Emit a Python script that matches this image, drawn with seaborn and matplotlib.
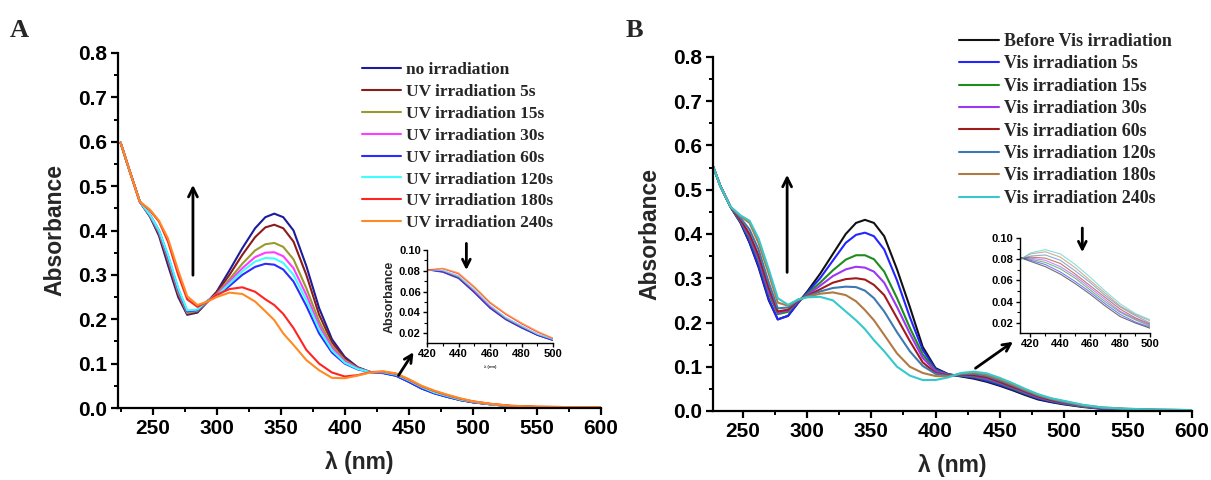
import numpy as np
import pandas as pd
import matplotlib
matplotlib.use("Agg")
import matplotlib.pyplot as plt
from matplotlib.lines import Line2D
from matplotlib.ticker import MultipleLocator, FormatStrFormatter
import seaborn as sns

# ---------------- data ----------------
wavelength = [225, 232, 240, 248, 255, 262, 270, 277, 285, 293,
              300, 310, 320, 330, 338, 345, 352, 360, 370, 380, 390, 400, 410, 420,
              430, 440, 450, 460, 470, 480, 490, 500, 515, 530, 550, 575, 600]

labels_a = ["no irradiation", "UV irradiation 5s", "UV irradiation 15s", "UV irradiation 30s",
            "UV irradiation 60s", "UV irradiation 120s", "UV irradiation 180s", "UV irradiation 240s"]
colors_a = ["#1c1c9c", "#8b1c1c", "#9a9a2c", "#ff3cff", "#2c2cff", "#3cffff", "#ff2424", "#ff8a24"]

a_no = [0.598, 0.535, 0.465, 0.431, 0.388, 0.322, 0.250, 0.210, 0.215, 0.240,
        0.262, 0.310, 0.360, 0.405, 0.430, 0.438, 0.430, 0.400, 0.320, 0.225, 0.155, 0.115, 0.092, 0.081,
        0.079, 0.073, 0.059, 0.044, 0.033, 0.025, 0.018, 0.013, 0.008, 0.004, 0.002, 0.001, 0.001]
a_5s = [0.598, 0.535, 0.465, 0.432, 0.392, 0.330, 0.255, 0.212, 0.217, 0.240,
        0.260, 0.300, 0.345, 0.385, 0.407, 0.413, 0.405, 0.375, 0.300, 0.210, 0.148, 0.112, 0.091, 0.081,
        0.0795, 0.0735, 0.060, 0.045, 0.034, 0.026, 0.018, 0.013, 0.008, 0.004, 0.002, 0.001, 0.001]
a_15s = [0.598, 0.535, 0.465, 0.433, 0.395, 0.335, 0.260, 0.214, 0.219, 0.241,
         0.257, 0.290, 0.325, 0.355, 0.369, 0.372, 0.363, 0.335, 0.270, 0.195, 0.140, 0.108, 0.090, 0.081,
         0.080, 0.074, 0.061, 0.046, 0.034, 0.026, 0.019, 0.013, 0.008, 0.004, 0.002, 0.001, 0.001]
a_30s = [0.598, 0.535, 0.465, 0.434, 0.398, 0.340, 0.265, 0.217, 0.221, 0.242,
         0.255, 0.285, 0.315, 0.340, 0.350, 0.351, 0.342, 0.315, 0.255, 0.185, 0.135, 0.105, 0.089, 0.081,
         0.080, 0.075, 0.061, 0.046, 0.035, 0.027, 0.019, 0.014, 0.008, 0.004, 0.002, 0.001, 0.001]
a_60s = [0.598, 0.535, 0.465, 0.435, 0.400, 0.343, 0.268, 0.218, 0.221, 0.242,
         0.252, 0.275, 0.300, 0.318, 0.325, 0.323, 0.312, 0.285, 0.230, 0.168, 0.125, 0.100, 0.087, 0.081,
         0.0785, 0.0725, 0.059, 0.044, 0.033, 0.025, 0.018, 0.013, 0.008, 0.004, 0.002, 0.001, 0.001]
a_120s = [0.598, 0.535, 0.465, 0.435, 0.400, 0.345, 0.270, 0.220, 0.222, 0.242,
          0.253, 0.280, 0.308, 0.330, 0.338, 0.337, 0.327, 0.300, 0.243, 0.177, 0.130, 0.102, 0.088, 0.081,
          0.0805, 0.075, 0.062, 0.047, 0.035, 0.027, 0.019, 0.014, 0.008, 0.004, 0.002, 0.001, 0.001]
a_180s = [0.598, 0.535, 0.465, 0.445, 0.420, 0.375, 0.300, 0.245, 0.228, 0.240,
          0.255, 0.268, 0.272, 0.262, 0.245, 0.232, 0.212, 0.180, 0.131, 0.100, 0.080, 0.071, 0.074, 0.081,
          0.082, 0.077, 0.064, 0.049, 0.038, 0.029, 0.021, 0.015, 0.009, 0.005, 0.003, 0.002, 0.002]
a_240s = [0.598, 0.535, 0.465, 0.447, 0.422, 0.382, 0.310, 0.252, 0.232, 0.240,
          0.250, 0.260, 0.257, 0.240, 0.218, 0.198, 0.168, 0.142, 0.108, 0.085, 0.068, 0.067, 0.073, 0.080,
          0.0825, 0.078, 0.065, 0.050, 0.039, 0.030, 0.022, 0.015, 0.009, 0.005, 0.003, 0.002, 0.002]

labels_b = ["Before Vis irradiation", "Vis irradiation 5s", "Vis irradiation 15s", "Vis irradiation 30s",
            "Vis irradiation 60s", "Vis irradiation 120s", "Vis irradiation 180s", "Vis irradiation 240s"]
colors_b = ["#111111", "#2424ff", "#1e8c1e", "#9b38f0", "#a01c1c", "#3e78b2", "#b07a44", "#36c8cc"]

b_before = [0.565, 0.510, 0.462, 0.425, 0.380, 0.325, 0.250, 0.207, 0.215, 0.245,
            0.270, 0.310, 0.355, 0.400, 0.425, 0.432, 0.425, 0.395, 0.320, 0.235, 0.145, 0.097, 0.083, 0.078,
            0.073, 0.066, 0.057, 0.047, 0.036, 0.026, 0.020, 0.015, 0.009, 0.005, 0.003, 0.002, 0.001]
b_5s = [0.565, 0.510, 0.462, 0.426, 0.382, 0.328, 0.253, 0.207, 0.215, 0.245,
        0.268, 0.300, 0.340, 0.380, 0.398, 0.403, 0.395, 0.365, 0.295, 0.212, 0.138, 0.095, 0.083, 0.079,
        0.075, 0.068, 0.059, 0.049, 0.038, 0.028, 0.021, 0.016, 0.010, 0.005, 0.003, 0.002, 0.001]
b_15s = [0.565, 0.510, 0.462, 0.428, 0.390, 0.340, 0.265, 0.219, 0.224, 0.248,
         0.265, 0.290, 0.318, 0.342, 0.352, 0.352, 0.343, 0.315, 0.255, 0.188, 0.128, 0.092, 0.082, 0.080,
         0.077, 0.071, 0.062, 0.051, 0.040, 0.030, 0.023, 0.017, 0.010, 0.006, 0.003, 0.002, 0.001]
b_30s = [0.565, 0.510, 0.462, 0.430, 0.395, 0.345, 0.270, 0.222, 0.227, 0.249,
         0.262, 0.283, 0.305, 0.320, 0.326, 0.324, 0.315, 0.290, 0.235, 0.175, 0.120, 0.090, 0.081, 0.081,
         0.079, 0.073, 0.064, 0.053, 0.042, 0.031, 0.024, 0.018, 0.011, 0.006, 0.004, 0.002, 0.001]
b_60s = [0.565, 0.510, 0.462, 0.432, 0.400, 0.352, 0.278, 0.225, 0.229, 0.250,
         0.260, 0.275, 0.290, 0.298, 0.300, 0.297, 0.285, 0.262, 0.210, 0.158, 0.110, 0.086, 0.080, 0.082,
         0.081, 0.076, 0.066, 0.055, 0.044, 0.033, 0.025, 0.019, 0.012, 0.007, 0.004, 0.002, 0.002]
b_120s = [0.565, 0.510, 0.462, 0.436, 0.410, 0.365, 0.290, 0.232, 0.234, 0.251,
          0.259, 0.270, 0.278, 0.281, 0.280, 0.272, 0.255, 0.225, 0.178, 0.135, 0.102, 0.084, 0.079, 0.083,
          0.084, 0.079, 0.069, 0.058, 0.046, 0.035, 0.027, 0.020, 0.012, 0.007, 0.004, 0.003, 0.002]
b_180s = [0.565, 0.510, 0.462, 0.440, 0.425, 0.380, 0.310, 0.245, 0.238, 0.252,
          0.258, 0.265, 0.268, 0.262, 0.248, 0.228, 0.205, 0.172, 0.130, 0.100, 0.086, 0.079, 0.078, 0.085,
          0.087, 0.082, 0.072, 0.060, 0.048, 0.036, 0.028, 0.022, 0.013, 0.008, 0.005, 0.003, 0.002]
b_240s = [0.565, 0.510, 0.462, 0.442, 0.430, 0.390, 0.320, 0.255, 0.240, 0.252,
          0.257, 0.258, 0.250, 0.225, 0.205, 0.185, 0.160, 0.135, 0.100, 0.080, 0.070, 0.070, 0.076, 0.086,
          0.089, 0.085, 0.075, 0.063, 0.050, 0.038, 0.029, 0.023, 0.014, 0.008, 0.005, 0.003, 0.002]

series_a = [a_no, a_5s, a_15s, a_30s, a_60s, a_120s, a_180s, a_240s]
series_b = [b_before, b_5s, b_15s, b_30s, b_60s, b_120s, b_180s, b_240s]


def long_frame(labels, series):
    rows = []
    for lab, vals in zip(labels, series):
        for w, v in zip(wavelength, vals):
            rows.append((lab, w, v))
    return pd.DataFrame(rows, columns=["series", "wl", "abs"])


df_a = long_frame(labels_a, series_a)
df_b = long_frame(labels_b, series_b)

# ---------------- style ----------------
sns.set_theme(style="ticks")
plt.rcParams["font.family"] = ["Liberation Sans", "DejaVu Sans"]
plt.rcParams["font.weight"] = "bold"
plt.rcParams["axes.labelweight"] = "bold"

SANS = "Liberation Sans"
SERIF = "Liberation Serif"

fig = plt.figure(figsize=(12.11, 4.80), dpi=100)
fig.patch.set_facecolor("white")

ax_a = fig.add_axes([118 / 1211, 72 / 480, 483 / 1211, 355 / 480])
ax_b = fig.add_axes([713 / 1211, 69 / 480, 479 / 1211, 354 / 480])


def style_main(ax, xmin):
    ax.set_xlim(xmin, 600)
    ax.set_ylim(0, 0.8)
    ax.xaxis.set_major_locator(MultipleLocator(50))
    ax.xaxis.set_minor_locator(MultipleLocator(25))
    ax.yaxis.set_major_locator(MultipleLocator(0.1))
    ax.yaxis.set_minor_locator(MultipleLocator(0.05))
    ax.yaxis.set_major_formatter(FormatStrFormatter("%.1f"))
    for s in ["top", "right"]:
        ax.spines[s].set_visible(False)
    for s in ["left", "bottom"]:
        ax.spines[s].set_linewidth(1.6)
        ax.spines[s].set_color("black")
    ax.tick_params(which="major", direction="out", length=5, width=1.6, colors="black",
                   labelsize=15, pad=3)
    ax.tick_params(which="minor", direction="out", length=3, width=1.4, colors="black")
    for t in ax.get_xticklabels() + ax.get_yticklabels():
        t.set_fontweight("bold")
        t.set_family(SANS)
    ax.set_xlabel("λ (nm)", fontsize=16.5, fontweight="bold", family=SANS, labelpad=9)
    ax.set_ylabel("Absorbance", fontsize=16.5, fontweight="bold", family=SANS, labelpad=8)
    ax.set_facecolor("white")


def style_inset(ax, xmin):
    ax.set_xlim(xmin, 500)
    ax.set_ylim(0.0105, 0.10)
    ax.xaxis.set_major_locator(MultipleLocator(20))
    ax.xaxis.set_minor_locator(MultipleLocator(10))
    ax.yaxis.set_major_locator(MultipleLocator(0.02))
    ax.yaxis.set_minor_locator(MultipleLocator(0.01))
    ax.yaxis.set_major_formatter(FormatStrFormatter("%.2f"))
    for s in ["top", "right"]:
        ax.spines[s].set_visible(False)
    for s in ["left", "bottom"]:
        ax.spines[s].set_linewidth(1.0)
        ax.spines[s].set_color("black")
    ax.tick_params(which="major", direction="out", length=3, width=1.0, colors="black",
                   labelsize=8, pad=1.5)
    ax.tick_params(which="minor", direction="out", length=2, width=0.8, colors="black")
    for t in ax.get_xticklabels() + ax.get_yticklabels():
        t.set_fontweight("bold")
        t.set_family(SANS)
    ax.set_facecolor("white")


# ---------------- panel A ----------------
sns.lineplot(data=df_a, x="wl", y="abs", hue="series", hue_order=labels_a,
             palette=colors_a, estimator=None, sort=False, linewidth=1.5,
             legend=False, ax=ax_a)
style_main(ax_a, 223)

handles_a = [Line2D([], [], color=c, lw=1.5) for c in colors_a]
leg_a = ax_a.legend(handles_a, labels_a, loc="upper left",
                    bbox_to_anchor=(362 / 1211, 1 - 62 / 480), bbox_transform=fig.transFigure,
                    frameon=False, handlelength=2.25, handletextpad=0.3, labelspacing=0.33,
                    borderpad=0, borderaxespad=0,
                    prop={"family": SERIF, "weight": "bold", "size": 12.5})

ax_a.annotate("", xy=(281.5, 0.509), xytext=(281.5, 0.293),
              arrowprops=dict(arrowstyle="->", lw=2, color="black", mutation_scale=16))
ax_a.annotate("", xy=(454.8, 0.131), xytext=(440.8, 0.068),
              arrowprops=dict(arrowstyle="->", lw=2, color="black", mutation_scale=14))

# inset A
in_a = fig.add_axes([427 / 1211, (480 - 343) / 480, 126 / 1211, 93 / 480])
sns.lineplot(data=df_a, x="wl", y="abs", hue="series", hue_order=labels_a,
             palette=colors_a, estimator=None, sort=False, linewidth=0.8,
             legend=False, ax=in_a, alpha=0.8)
style_inset(in_a, 420)
in_a.set_ylabel("Absorbance", fontsize=9, fontweight="bold", family=SANS, labelpad=2)
in_a.set_xlabel("λ (nm)", fontsize=3, fontweight="bold", family=SANS, labelpad=4)
in_a.annotate("", xy=(445, 0.078), xytext=(445, 0.109), annotation_clip=False,
              arrowprops=dict(arrowstyle="->", lw=2, color="black", mutation_scale=14))

# ---------------- panel B ----------------
sns.lineplot(data=df_b, x="wl", y="abs", hue="series", hue_order=labels_b,
             palette=colors_b, estimator=None, sort=False, linewidth=1.5,
             legend=False, ax=ax_b)
style_main(ax_b, 226.5)

handles_b = [Line2D([], [], color=c, lw=1.5) for c in colors_b]
leg_b = ax_b.legend(handles_b, labels_b, loc="upper left",
                    bbox_to_anchor=(959 / 1211, 1 - 33 / 480), bbox_transform=fig.transFigure,
                    frameon=False, handlelength=2.2, handletextpad=0.3, labelspacing=0.3,
                    borderpad=0, borderaxespad=0,
                    prop={"family": SERIF, "weight": "bold", "size": 13})

ax_b.annotate("", xy=(284.3, 0.54), xytext=(284.3, 0.307),
              arrowprops=dict(arrowstyle="->", lw=2, color="black", mutation_scale=16))
ax_b.annotate("", xy=(462.2, 0.160), xytext=(429.4, 0.093),
              arrowprops=dict(arrowstyle="->", lw=2, color="black", mutation_scale=14))

# inset B
in_b = fig.add_axes([1020 / 1211, (480 - 333) / 480, 130 / 1211, 95 / 480])
sns.lineplot(data=df_b, x="wl", y="abs", hue="series", hue_order=labels_b,
             palette=colors_b, estimator=None, sort=False, linewidth=0.8,
             legend=False, ax=in_b, alpha=0.6)
style_inset(in_b, 413)
in_b.set_xlabel("")
in_b.set_ylabel("")
in_b.annotate("", xy=(454.7, 0.084), xytext=(454.7, 0.112), annotation_clip=False,
              arrowprops=dict(arrowstyle="->", lw=2, color="black", mutation_scale=14))

# panel letters
fig.text(10 / 1211, 1 - 37 / 480, "A", family=SERIF, fontweight="bold", fontsize=19)
fig.text(626 / 1211, 1 - 37 / 480, "B", family=SERIF, fontweight="bold", fontsize=19)

fig.savefig("out.png", dpi=100, facecolor="white")
